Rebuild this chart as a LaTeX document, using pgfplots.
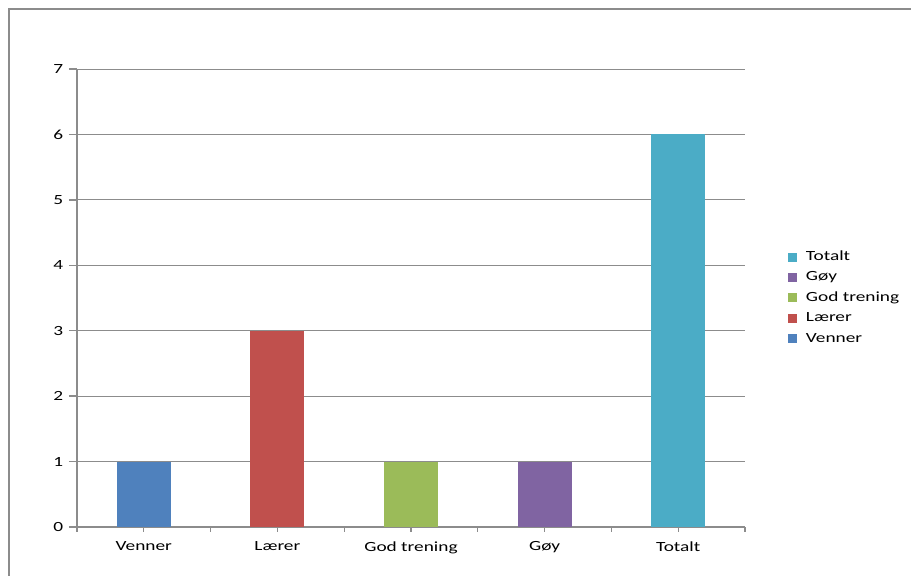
\documentclass[border=0pt]{standalone}
\usepackage{fontspec}
\setmainfont[FakeStretch=1.38]{Carlito}
\usepackage{pgfplots}
\pgfplotsset{compat=1.18}
\definecolor{linegray}{HTML}{8C8C8C}
\definecolor{cVenner}{HTML}{4F81BD}
\definecolor{cLaerer}{HTML}{C0504D}
\definecolor{cTrening}{HTML}{9BBB59}
\definecolor{cGoy}{HTML}{8064A2}
\definecolor{cTotalt}{HTML}{4BACC6}
\begin{document}
\fontsize{14pt}{16pt}\selectfont
\begin{tikzpicture}
\useasboundingbox (-77pt,-49pt) rectangle (834pt,527pt);
% outer chart frame
\draw[linegray, line width=1.3pt] (-68pt,-90pt) -- (-68pt,518pt) -- (900pt,518pt);
\begin{axis}[
  at={(0pt,0pt)}, anchor=south west,
  scale only axis, width=668pt, height=458pt,
  ybar, bar width=54pt,
  xmin=-0.5, xmax=4.5, ymin=0, ymax=7,
  axis x line*=bottom, axis y line*=left,
  axis line style={linegray, line width=1.3pt, -},
  tick align=outside, major tick length=8pt,
  tick style={linegray, line width=1.3pt},
  xtick={-0.5,0.5,1.5,2.5,3.5,4.5}, xticklabels={},
  xtick style={/pgfplots/major tick length=5pt},
  extra x ticks={0,1,2,3,4},
  extra x tick labels={Venner, Lærer, God trening, Gøy, Totalt},
  extra x tick style={major tick length=0pt},
  ytick={0,1,...,7},
  ymajorgrids, major grid style={linegray, line width=0.9pt},
  /pgf/number format/assume math mode=true,
  ticklabel style={font=\fontsize{14pt}{16pt}\selectfont, text=black},
  yticklabel style={xshift=-1pt},
  xticklabel style={yshift=-10pt},
  legend image code/.code={\fill[#1] (0pt,-4.5pt) rectangle (9pt,4.5pt);},
  reverse legend,
  legend cell align=left,
  legend style={at={(1.064,0.500)}, anchor=west, draw=none, fill=none,
    inner sep=0pt, row sep=3.5pt, column sep=7pt,
    font=\fontsize{14pt}{16pt}\selectfont,
    nodes={inner sep=2pt, text height=10pt, text depth=3pt}},
]
\addplot[fill=cVenner, draw=none, bar shift=0pt] coordinates {(0,1)};
\addlegendentry{Venner}
\addplot[fill=cLaerer, draw=none, bar shift=0pt] coordinates {(1,3)};
\addlegendentry{Lærer}
\addplot[fill=cTrening, draw=none, bar shift=0pt] coordinates {(2,1)};
\addlegendentry{God trening}
\addplot[fill=cGoy, draw=none, bar shift=0pt] coordinates {(3,1)};
\addlegendentry{Gøy}
\addplot[fill=cTotalt, draw=none, bar shift=0pt] coordinates {(4,6)};
\addlegendentry{Totalt}
\end{axis}
\end{tikzpicture}
\end{document}
